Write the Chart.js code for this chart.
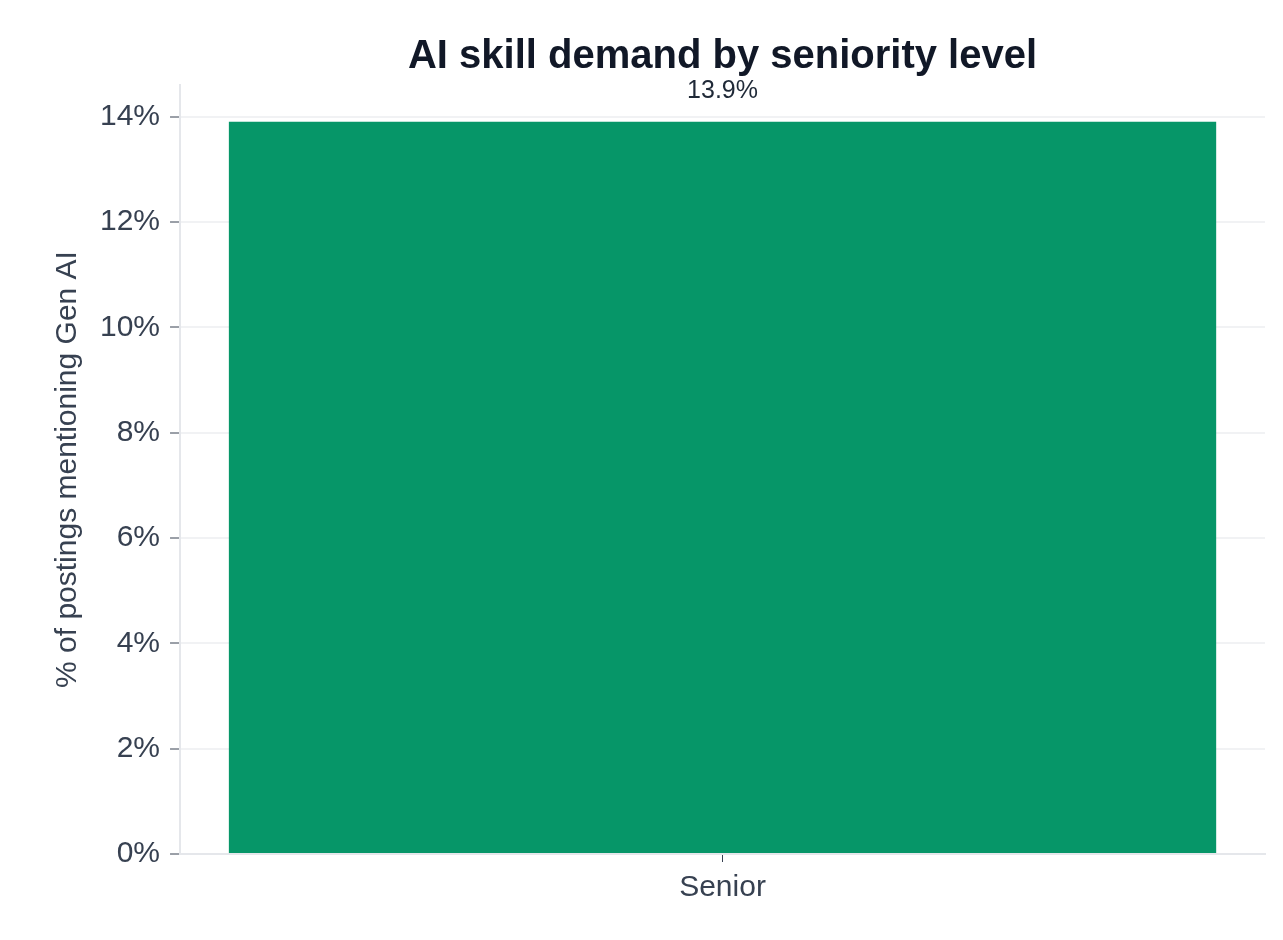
<!DOCTYPE html>
<html><head><meta charset="utf-8">
<script src="https://cdn.jsdelivr.net/npm/chart.js@4/dist/chart.umd.min.js"></script>
<style>html,body{margin:0;background:#fff}#w{width:1283px;height:940px}</style>
</head><body><div id="w"><canvas id="c"></canvas></div>
<script>
const categories = ["Senior"];
const values = [13.9];
const titleText = "AI skill demand by seniority level";
const yTitle = "% of postings mentioning Gen AI";
const FONT = "'Liberation Sans', Arial, sans-serif";
const overlay = {
  id: 'overlay',
  afterDatasetsDraw(chart) {
    const ctx = chart.ctx, a = chart.chartArea;
    ctx.save();
    ctx.textAlign = 'center';
    ctx.fillStyle = '#111827';
    ctx.font = "bold 40px " + FONT;
    ctx.textBaseline = 'alphabetic';
    ctx.fillText(titleText, (a.left + a.right) / 2, 68);
    const meta = chart.getDatasetMeta(0);
    ctx.font = "25px " + FONT;
    ctx.fillStyle = '#1f2937';
    meta.data.forEach((el, i) => {
      ctx.fillText(values[i].toFixed(1) + '%', el.x, el.y - 24);
    });
    ctx.restore();
  }
};
new Chart(document.getElementById('c'), {
  type: 'bar',
  data: { labels: categories, datasets: [{ data: values, backgroundColor: '#069668', barPercentage: 0.91, categoryPercentage: 1 }] },
  options: {
    responsive: true, maintainAspectRatio: false, animation: false,
    layout: { padding: { top: 85, right: 18, left: 46, bottom: 26 } },
    plugins: { legend: { display: false }, tooltip: { enabled: false } },
    scales: {
      x: {
        grid: { offset: false, drawOnChartArea: false, drawTicks: true, tickLength: 8, color: '#374151' },
        border: { color: '#e5e7eb', width: 2 },
        ticks: { color: '#374151', font: { size: 30, family: FONT }, padding: 8 }
      },
      y: {
        min: 0, max: 14.6,
        afterBuildTicks(s) { s.ticks = [0,2,4,6,8,10,12,14].map(v => ({ value: v })); },
        grid: { color: '#f1f2f4', lineWidth: 2, drawTicks: true, tickLength: 10, tickColor: '#374151', tickWidth: 1 },
        border: { color: '#e5e7eb', width: 2 },
        ticks: { color: '#374151', font: { size: 30, family: FONT }, padding: 10, callback: v => v + '%' },
        title: { display: true, text: yTitle, color: '#374151', font: { size: 30, family: FONT } }
      }
    }
  },
  plugins: [overlay]
});
</script></body></html>
